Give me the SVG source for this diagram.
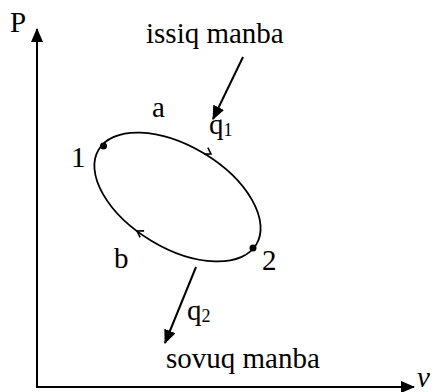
<svg xmlns="http://www.w3.org/2000/svg" width="436" height="392" viewBox="0 0 436 392">
  <style>
    .t { font-family: "Liberation Serif", "Times New Roman", serif; font-size: 29px; fill: #000; }
    .sub { font-family: "Liberation Serif", "Times New Roman", serif; font-size: 18px; fill: #000; }
    .ln { stroke: #000; stroke-width: 2; fill: none; }
    .cyc { stroke: #000; stroke-width: 1.8; fill: none; }
    .chev { stroke: #000; stroke-width: 1.6; fill: none; stroke-linejoin: miter; }
  </style>
  <defs>
    <marker id="ah" viewBox="0 0 14 12" refX="13" refY="6" markerWidth="14" markerHeight="12" markerUnits="userSpaceOnUse" orient="auto">
      <path d="M0,0 L14,6 L0,12 Z" fill="#000"/>
    </marker>
    <path id="chev" d="M-6,-3.8 L0,0 L-6,3.8" class="chev"/>
  </defs>
  <rect width="436" height="392" fill="#fff"/>

  <g id="axes">
    <line class="ln" x1="37" y1="387" x2="37" y2="29" marker-end="url(#ah)"/>
    <line class="ln" x1="36" y1="387" x2="414" y2="387" marker-end="url(#ah)"/>
    <text class="t" x="417" y="387" font-size="25" font-style="italic">v</text>
  </g>
  <g id="p-label">
    <text class="t" x="10" y="32">P</text>
  </g>

  <g id="cycle">
    <ellipse class="cyc" cx="177.5" cy="197" rx="92" ry="51" transform="rotate(31 177.5 197)"/>
    <use href="#chev" transform="translate(211 154) rotate(31)"/>
    <use href="#chev" transform="translate(137 231) rotate(211)"/>
  </g>

  <g id="state1">
    <circle cx="103.5" cy="146" r="3.5" fill="#000"/>
    <text class="t" x="71" y="167">1</text>
  </g>
  <g id="state2">
    <circle cx="253" cy="248" r="3.5" fill="#000"/>
    <text class="t" x="262" y="270">2</text>
  </g>
  <g id="label-a">
    <text class="t" x="152" y="117">a</text>
  </g>
  <g id="label-b">
    <text class="t" x="114" y="268">b</text>
  </g>

  <g id="hot-source">
    <text class="t" x="146" y="43">issiq manba</text>
  </g>
  <g id="cold-source">
    <text class="t" x="166" y="368">sovuq manba</text>
  </g>

  <g id="connectors">
    <line class="ln" x1="243" y1="57" x2="213" y2="119" marker-end="url(#ah)"/>
    <line class="ln" x1="196" y1="267" x2="165" y2="343" marker-end="url(#ah)"/>
  </g>

  <g id="heat-labels">
    <text class="t" x="209" y="134">q<tspan class="sub" dy="2">1</tspan></text>
    <text class="t" x="187" y="320">q<tspan class="sub" dy="2">2</tspan></text>
  </g>
</svg>
